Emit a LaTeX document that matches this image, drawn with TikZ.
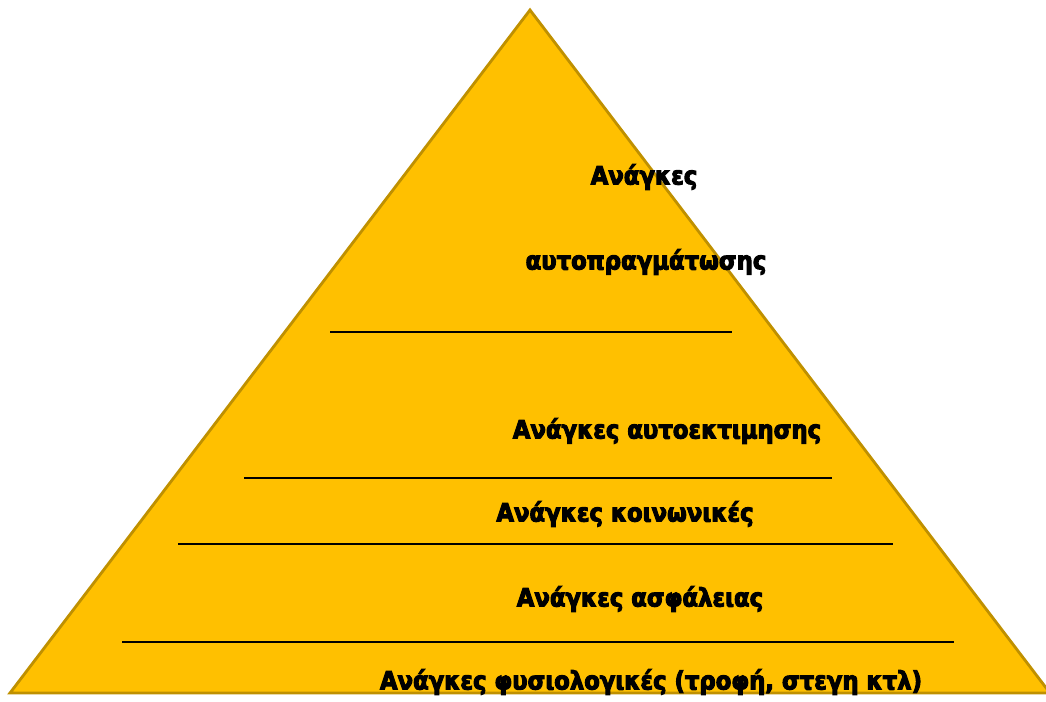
\documentclass[tikz,border=0pt]{standalone}
\usepackage{fontspec}
\setmainfont{DejaVu Sans}
\newfontfamily\needfont{DejaVu Sans Condensed Bold}[FakeBold=4]
\usepackage{tikz}
\definecolor{PyramidGold}{HTML}{FFC000}
\definecolor{EdgeGold}{HTML}{BF9000}
\tikzset{
  levelline/.style={draw=black,line width=0.6pt},
  needtext/.style={
    font=\fontsize{14.4}{16}\needfont,
    text=black,anchor=center,inner sep=0pt
  },
}

\begin{document}
\begin{tikzpicture}[x=0.02cm,y=-0.02cm]
  \useasboundingbox (0,0) rectangle (1046,702);
  % pyramid body
  \coordinate (apex) at (530,10);
  \coordinate (bl) at (10,693);
  \coordinate (br) at (1050,693);
  \fill[PyramidGold,draw=EdgeGold,line width=1.6pt,line join=miter] (apex) -- (br) -- (bl) -- cycle;
  % level separators
  \draw[levelline] (330,332) -- (732,332);
  \draw[levelline] (244,478) -- (832,478);
  \draw[levelline] (178,544) -- (893,544);
  \draw[levelline] (122,642) -- (954,642);
  % level labels
  \node[needtext] (top1) at (644,177) {Ανάγκες};
  \node[needtext] (top2) at (646,262) {αυτοπραγμάτωσης};
  \node[needtext] (esteem) at (667,431) {Ανάγκες αυτοεκτιμησης};
  \node[needtext] (social) at (625,514) {Ανάγκες κοινωνικές};
  \node[needtext] (safety) at (640,599) {Ανάγκες ασφάλειας};
  \node[needtext] (body) at (651,682) {Ανάγκες φυσιολογικές (τροφή, στεγη κτλ)};
\end{tikzpicture}
\end{document}
